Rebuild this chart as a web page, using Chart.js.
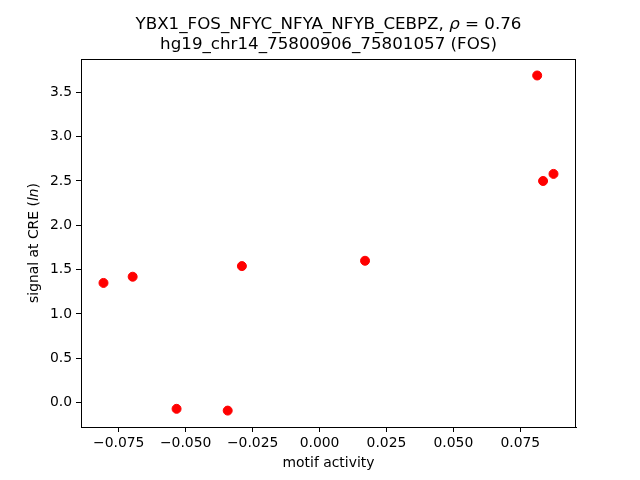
<!DOCTYPE html>
<html>
<head>
<meta charset="utf-8">
<script src="https://cdn.jsdelivr.net/npm/chart.js@4/dist/chart.umd.min.js"></script>
<style>
  html, body { margin: 0; padding: 0; background: #fff; }
  #wrap { width: 640px; height: 480px; }
</style>
</head>
<body>
<div id="wrap"><canvas id="chart" width="640" height="480"></canvas></div>
<script>
// values
const motifActivity = [-0.0807, -0.0698, -0.0534, -0.0343, -0.0290, 0.0170, 0.0813, 0.0835, 0.0874];
const creSignal = [1.35, 1.42, -0.07, -0.09, 1.54, 1.60, 3.69, 2.50, 2.58];
const xTicks = [-0.075, -0.050, -0.025, 0.000, 0.025, 0.050, 0.075];
const yTicks = [0.0, 0.5, 1.0, 1.5, 2.0, 2.5, 3.0, 3.5];

const FONT = 'DejaVu Sans';

function minus(s) {
  return s.replace('-', '\u2212');
}

// draw a line of text made of [text, italic] parts, centered at cx
function drawParts(ctx, parts, cx, y, size) {
  let total = 0;
  for (const p of parts) {
    ctx.font = (p[1] ? 'italic ' : '') + size + 'px "' + FONT + '"';
    total += ctx.measureText(p[0]).width;
  }
  let x = cx - total / 2;
  ctx.textAlign = 'left';
  for (const p of parts) {
    ctx.font = (p[1] ? 'italic ' : '') + size + 'px "' + FONT + '"';
    ctx.fillText(p[0], x, y);
    x += ctx.measureText(p[0]).width;
  }
}

const labelsPlugin = {
  id: 'labels',
  afterDraw(chart) {
    const ctx = chart.ctx;
    const a = chart.chartArea;
    const cx = (a.left + a.right) / 2;
    ctx.save();
    // frame on all sides
    ctx.strokeStyle = '#000';
    ctx.lineWidth = 1;
    ctx.strokeRect(a.left + 0.5, a.top + 0.5, a.right - a.left - 1, a.bottom - a.top);
    ctx.fillStyle = '#000';
    ctx.textBaseline = 'alphabetic';
    drawParts(ctx, [['YBX1_FOS_NFYC_NFYA_NFYB_CEBPZ, ', false], ['\u03c1', true], [' = 0.76', false]], cx, 29, 16.7);
    drawParts(ctx, [['hg19_chr14_75800906_75801057 (FOS)', false]], cx, 49, 16.7);
    drawParts(ctx, [['motif activity', false]], cx, 467, 13.9);
    ctx.translate(38, (a.top + a.bottom) / 2);
    ctx.rotate(-Math.PI / 2);
    drawParts(ctx, [['signal at CRE (', false], ['ln', true], [')', false]], 0, 0, 13.9);
    ctx.restore();
  }
};

const ctx = document.getElementById('chart').getContext('2d');
new Chart(ctx, {
  type: 'scatter',
  data: {
    datasets: [{
      data: motifActivity.map((x, i) => ({ x: x, y: creSignal[i] })),
      backgroundColor: '#ff0000',
      borderColor: '#ff0000',
      pointRadius: 4.5,
      pointHoverRadius: 4.5
    }]
  },
  options: {
    responsive: false,
    animation: false,
    devicePixelRatio: 1,
    layout: { padding: { left: 0, right: 64, top: 59, bottom: 0 } },
    plugins: { legend: { display: false }, tooltip: { enabled: false } },
    scales: {
      x: {
        type: 'linear',
        min: -0.0891,
        max: 0.0958,
        afterBuildTicks(scale) { scale.ticks = xTicks.map(v => ({ value: v })); },
        afterFit(scale) { scale.height = 53; },
        grid: { drawOnChartArea: false, drawTicks: true, tickLength: 5, color: '#000' },
        border: { display: true, color: '#000' },
        ticks: {
          color: '#000',
          padding: 3,
          maxRotation: 0,
          font: { family: FONT, size: 13.9 },
          callback: v => minus(v.toFixed(3))
        }
      },
      y: {
        type: 'linear',
        min: -0.275,
        max: 3.876,
        afterBuildTicks(scale) { scale.ticks = yTicks.map(v => ({ value: v })); },
        afterFit(scale) { scale.width = 81; },
        grid: { drawOnChartArea: false, drawTicks: true, tickLength: 5, color: '#000' },
        border: { display: true, color: '#000' },
        ticks: {
          color: '#000',
          padding: 4,
          font: { family: FONT, size: 13.9 },
          callback: v => minus(v.toFixed(1))
        }
      }
    }
  },
  plugins: [labelsPlugin]
});
</script>
</body>
</html>
